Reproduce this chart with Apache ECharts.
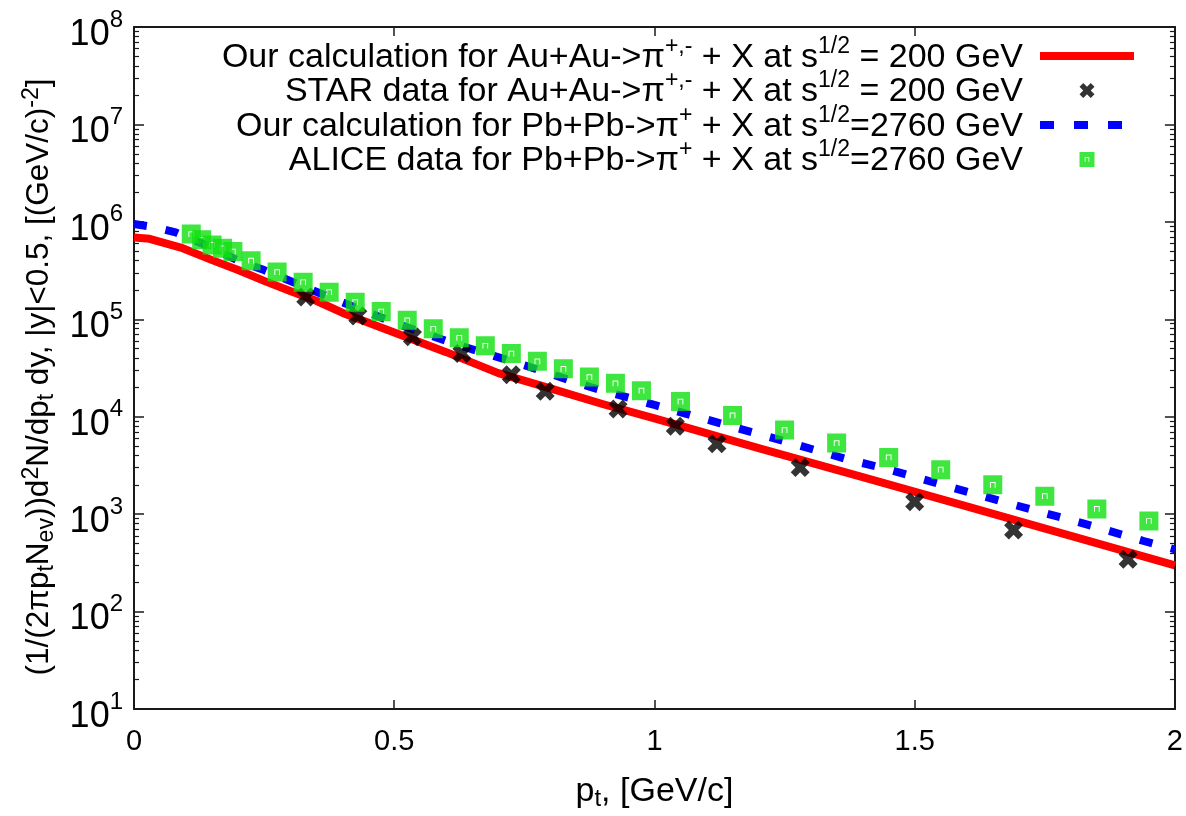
<!DOCTYPE html>
<html><head><meta charset="utf-8">
<script src="https://cdn.jsdelivr.net/npm/echarts@6/dist/echarts.min.js"></script>
<style>html,body{margin:0;padding:0;background:#fff}#c{width:1186px;height:816px}</style>
</head><body><div id="c"></div>
<script>
// ---- data ----
const ptCalcAu = [0, 0.03, 0.09, 0.15, 0.2, 0.25, 0.3, 0.35, 0.4, 0.5, 0.6, 0.7, 0.8, 0.9, 1.0, 1.2, 1.4, 1.6, 1.8, 2.0];
const yCalcAu  = [6.9e5, 6.7e5, 5.45e5, 4.05e5, 3.2e5, 2.48e5, 1.95e5, 1.55e5, 1.17e5, 7.3e4, 4.6e4, 2.8e4, 1.95e4, 1.35e4, 9.6e3, 4.75e3, 2.4e3, 1.2e3, 597, 298];

const ptCalcPb = [0, 0.04, 0.08, 0.14, 0.2, 0.25, 0.31, 0.38, 0.44, 0.5, 0.62, 0.75, 0.875, 1.0, 1.125, 1.25, 1.375, 1.44, 1.56, 1.69, 1.82, 1.94, 2.0];
const yCalcPb  = [9.5e5, 8.8e5, 7.8e5, 5.7e5, 4.0e5, 3.2e5, 2.35e5, 1.65e5, 1.23e5, 9.2e4, 5.5e4, 3.38e4, 2.03e4, 1.32e4, 8.6e3, 5.6e3, 3.6e3, 2.97e3, 1.95e3, 1.25e3, 815, 530, 435];

const ptStar = [0.33, 0.43, 0.535, 0.63, 0.725, 0.79, 0.93, 1.04, 1.12, 1.28, 1.5, 1.69, 1.91];
const yStar  = [1.69e5, 1.08e5, 6.6e4, 4.45e4, 2.7e4, 1.83e4, 1.2e4, 8.0e3, 5.27e3, 3.02e3, 1.34e3, 686, 344];

const ptAlice = [0.11, 0.13, 0.15, 0.17, 0.19, 0.225, 0.275, 0.325, 0.375, 0.425, 0.475, 0.525, 0.575, 0.625, 0.675, 0.725, 0.775, 0.825, 0.875, 0.925, 0.975, 1.05, 1.15, 1.25, 1.35, 1.45, 1.55, 1.65, 1.75, 1.85, 1.95];
const yAlice  = [7.5e5, 6.55e5, 5.8e5, 5.35e5, 4.95e5, 4.0e5, 3.05e5, 2.4e5, 1.9e5, 1.5e5, 1.2e5, 9.75e4, 8.0e4, 6.45e4, 5.35e4, 4.45e4, 3.7e4, 3.1e4, 2.55e4, 2.2e4, 1.85e4, 1.43e4, 1.03e4, 7.3e3, 5.36e3, 3.82e3, 2.86e3, 2.0e3, 1.53e3, 1.13e3, 850];

const seriesNames = ['calcAu', 'starAu', 'calcPb', 'alicePb'];
const legendTexts = {
  calcAu:  '{b|Our calculation for Au+Au->π}{sup|+,-}{b| + X at s}{sup|1/2}{b| = 200 GeV}',
  starAu:  '{b|STAR data for Au+Au->π}{sup|+,-}{b| + X at s}{sup|1/2}{b| = 200 GeV}',
  calcPb:  '{b|Our calculation for Pb+Pb->π}{sup|+}{b| + X at s}{sup|1/2}{b|=2760 GeV}',
  alicePb: '{b|ALICE data for Pb+Pb->π}{sup|+}{b| + X at s}{sup|1/2}{b|=2760 GeV}'
};
const xTitle = '{b|p}{sub|t}{b|, [GeV/c]}';
const yTitle = '{b|(1/(2πp}{sub|t}{b|N}{sub|ev}{b|))d}{sup|2}{b|N/dp}{sub|t}{b| dy, |y|<0.5, [(GeV/c)}{sup|-2}{b|]}{sp| }';

// ---- chart ----
const FONT = '"Liberation Sans", Arial, Helvetica, sans-serif';
const AXC = '#1a1a1a';
const pairs = (xs, ys) => xs.map((x, i) => [x, ys[i]]);
const starPath = 'path://M4,0 L8,4 L12,0 L16,4 L12,8 L16,12 L12,16 L8,12 L4,16 L0,12 L4,8 L0,4 Z';
const alicePath = 'path://M0,0 L20,0 L20,20 L0,20 Z M8,13 L8,8 L12,8 L12,13 L13,13 L13,7 L7,7 L7,13 Z';

const mkRich = (fs, sfs, lh) => ({
  b:   {fontSize: fs, height: fs, lineHeight: lh, verticalAlign: 'middle', fontFamily: FONT, color: '#000'},
  sub: {fontSize: sfs, height: sfs, lineHeight: sfs, verticalAlign: 'bottom', fontFamily: FONT, color: '#000'},
  sup: {fontSize: sfs, height: sfs, lineHeight: sfs, verticalAlign: 'top', fontFamily: FONT, color: '#000'},
  sp:  {fontSize: sfs, width: 18, height: sfs, lineHeight: sfs, color: 'rgba(0,0,0,0)'}
});

const yCommon = {type: 'log', logBase: 10, min: 10, max: 1e8, splitLine: {show: false}};

const chart = echarts.init(document.getElementById('c'), null, {renderer: 'canvas'});
chart.setOption({
  animation: false,
  backgroundColor: '#fff',
  textStyle: {fontFamily: FONT, color: '#000'},
  grid: {left: 134, right: 8, top: 27, bottom: 104, containLabel: false},
  legend: {
    data: [
      {name: 'calcAu', itemStyle: {opacity: 0}, lineStyle: {color: '#ff0000', width: 8}},
      {name: 'starAu'},
      {name: 'calcPb', itemStyle: {opacity: 0}, lineStyle: {color: '#0000ff', width: 8, type: [14, 20]}},
      {name: 'alicePb'}
    ],
    orient: 'vertical',
    align: 'right',
    right: 48, top: 35,
    padding: 0,
    itemGap: -5,
    itemWidth: 94, itemHeight: 15,
    selectedMode: false,
    formatter: n => legendTexts[n],
    textStyle: {
      padding: [0, 12, 0, 0],
      rich: {
        b:   {fontSize: 34, height: 30, lineHeight: 33, verticalAlign: 'bottom', fontFamily: FONT, color: '#000'},
        sup: {fontSize: 23, height: 14, lineHeight: 14, verticalAlign: 'top', fontFamily: FONT, color: '#000'}
      }
    }
  },
  xAxis: [{
    type: 'value', min: 0, max: 2, interval: 0.5, position: 'bottom',
    axisLine: {show: true, onZero: false, lineStyle: {color: AXC, width: 2}},
    axisTick: {show: true, inside: true, length: 9, lineStyle: {color: AXC, width: 1.5}},
    axisLabel: {fontSize: 29, color: '#000', margin: 18, fontFamily: FONT},
    splitLine: {show: false},
    name: xTitle, nameLocation: 'middle', nameGap: 64,
    nameTextStyle: {rich: mkRich(34, 24, 38)}
  }, {
    type: 'value', min: 0, max: 2, interval: 0.5, position: 'top',
    axisLine: {show: true, onZero: false, lineStyle: {color: AXC, width: 2}},
    axisTick: {show: true, inside: true, length: 9, lineStyle: {color: AXC, width: 1.5}},
    axisLabel: {show: false},
    splitLine: {show: false}
  }],
  yAxis: [Object.assign({}, yCommon, {
    position: 'left',
    axisLine: {show: true, onZero: false, lineStyle: {color: AXC, width: 2}},
    axisTick: {show: true, inside: true, length: 10, lineStyle: {color: AXC, width: 1.5}},
    minorTick: {show: true, splitNumber: 9, length: 5, lineStyle: {color: AXC, width: 1.2}},
    axisLabel: {
      margin: 11, padding: [6, 0, 0, 0],
      formatter: v => '{b|10}{s|' + Math.round(Math.log10(v)) + '}',
      rich: {
        b: {fontSize: 36, height: 32, lineHeight: 42, verticalAlign: 'bottom', fontFamily: FONT, color: '#000'},
        s: {fontSize: 24, height: 22, lineHeight: 22, verticalAlign: 'top', fontFamily: FONT, color: '#000'}
      }
    },
    name: yTitle, nameLocation: 'middle', nameGap: 76, nameRotate: 90,
    nameTextStyle: {rich: mkRich(31.5, 23, 38)}
  }), Object.assign({}, yCommon, {
    position: 'right',
    axisLine: {show: true, onZero: false, lineStyle: {color: AXC, width: 2}},
    axisTick: {show: true, inside: true, length: 10, lineStyle: {color: AXC, width: 1.5}},
    minorTick: {show: true, splitNumber: 9, length: 5, lineStyle: {color: AXC, width: 1.2}},
    axisLabel: {show: false}
  })],
  series: [{
    name: 'calcAu', type: 'line', xAxisIndex: 0, yAxisIndex: 0,
    data: pairs(ptCalcAu, yCalcAu),
    symbol: 'none', smooth: false,
    lineStyle: {color: '#ff0000', width: 8, join: 'round'}, itemStyle: {color: '#ff0000'}, z: 2
  }, {
    name: 'calcPb', type: 'line', xAxisIndex: 0, yAxisIndex: 0,
    data: pairs(ptCalcPb, yCalcPb),
    symbol: 'none', smooth: false,
    lineStyle: {color: '#0000ff', width: 8, type: [13, 19]}, itemStyle: {color: '#0000ff'}, z: 3
  }, {
    name: 'starAu', type: 'scatter', xAxisIndex: 0, yAxisIndex: 0,
    data: pairs(ptStar, yStar),
    symbol: starPath, symbolSize: 19,
    itemStyle: {color: '#000'}, z: 4
  }, {
    name: 'alicePb', type: 'scatter', xAxisIndex: 0, yAxisIndex: 0,
    data: pairs(ptAlice, yAlice),
    symbol: alicePath, symbolSize: 19,
    itemStyle: {color: '#10e010'}, z: 5
  }]
});
</script>
</body></html>
